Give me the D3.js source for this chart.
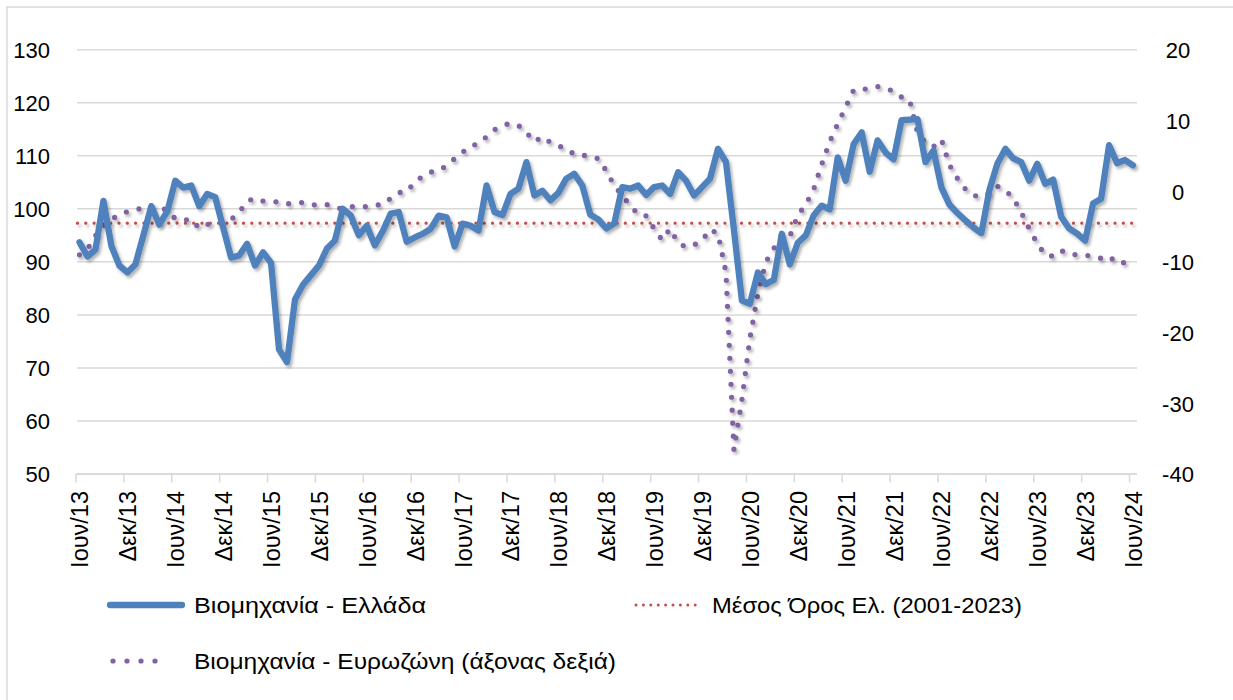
<!DOCTYPE html>
<html><head><meta charset="utf-8">
<script src="https://cdn.jsdelivr.net/npm/d3@7"></script>
<style>
html,body{margin:0;padding:0;background:#fff;}
svg{display:block;font-family:"Liberation Sans",Arial,sans-serif;}
</style></head>
<body><svg id="chart" width="1233" height="700"></svg>
<script>
// ---- data ----
const startMonth = new Date(2013, 5, 1); // Ιουν/13
const tickLabels = ["Ιουν/13","Δεκ/13","Ιουν/14","Δεκ/14","Ιουν/15","Δεκ/15","Ιουν/16","Δεκ/16","Ιουν/17","Δεκ/17","Ιουν/18","Δεκ/18","Ιουν/19","Δεκ/19","Ιουν/20","Δεκ/20","Ιουν/21","Δεκ/21","Ιουν/22","Δεκ/22","Ιουν/23","Δεκ/23","Ιουν/24"];
const greece = [93.7,91.0,92.3,101.5,93.0,89.3,88.0,89.5,95.0,100.5,97.0,99.5,
105.3,104.0,104.4,100.5,102.8,102.2,96.5,90.8,91.2,93.4,89.3,91.8,
89.8,73.5,71.1,82.9,85.7,87.5,89.3,92.5,94.0,100.0,98.7,95.0,
96.8,93.1,95.8,99.1,99.4,93.8,94.6,95.3,96.2,98.7,98.4,92.9,
97.2,96.8,95.9,104.4,99.4,98.8,102.8,103.8,108.8,102.5,103.4,101.6,
103.0,105.7,106.6,104.4,98.9,98.0,96.3,97.2,104.1,103.8,104.4,102.6,
104.1,104.4,102.8,106.9,105.3,102.5,104.1,105.7,111.3,108.8,96.0,82.7,
82.1,88.0,85.8,86.6,95.3,89.5,93.6,95.0,98.8,100.6,99.9,109.7,
105.3,112.2,114.4,107.0,112.9,110.6,109.3,116.7,116.8,116.9,108.8,111.0,
104.0,100.8,99.2,97.8,96.5,95.4,103.5,108.5,111.3,109.5,108.8,105.3,
108.5,104.7,105.5,98.5,96.3,95.3,94.0,101.0,101.9,112.0,108.6,109.2,
108.2];
const eurozone = [-9.0,-8.2,-6.3,-5.0,-4.0,-3.3,-2.9,-2.6,-2.4,-2.2,-2.3,-2.7,
-3.9,-4.1,-4.0,-5.2,-4.7,-4.5,-4.3,-4.0,-3.0,-1.4,-1.0,-1.4,
-1.5,-1.5,-1.8,-1.7,-1.6,-1.9,-2.0,-1.9,-2.3,-2.5,-2.2,-2.2,
-2.2,-2.0,-1.9,-1.0,-0.2,-0.1,1.3,2.1,2.7,2.9,3.6,4.6,
5.5,6.4,6.7,7.7,8.7,9.3,9.6,9.3,8.3,7.0,7.7,6.9,
6.4,6.0,5.2,5.1,4.9,4.6,2.9,0.8,-0.6,-2.0,-3.3,-3.5,
-5.3,-6.9,-5.3,-7.3,-7.9,-7.6,-7.0,-5.4,-6.0,-11.5,-36.6,-29.5,
-20.8,-14.6,-10.0,-8.1,-6.2,-6.4,-3.4,-1.9,0.3,3.8,7.0,9.5,
11.9,14.3,14.4,14.5,14.8,14.6,14.1,13.3,12.9,8.3,6.8,6.3,
7.3,3.7,1.8,0.3,-0.6,-0.8,-0.3,0.7,0.15,-1.0,-3.0,-5.3,
-7.4,-9.0,-9.2,-8.4,-8.9,-9.0,-9.0,-9.3,-9.5,-9.2,-10.2,-10.1,
-10.1];
const longRunAverage = 97.3;
const leftTicks = [50,60,70,80,90,100,110,120,130];
const rightTicks = [-40,-30,-20,-10,0,10,20];
const legendNames = ["Βιομηχανία  - Ελλάδα","Μέσος Όρος Ελ. (2001-2023)","Βιομηχανία - Ευρωζώνη (άξονας δεξιά)"];

// ---- layout ----
const svg = d3.select("#chart");
const W = 1233, H = 700;
const plot = {left:75.5, right:1137, top:49.7, bottom:474};
const months = d3.range(greece.length).map(i => d3.timeMonth.offset(startMonth, i));
const xBand = d3.scaleBand().domain(d3.range(months.length)).range([plot.left, plot.right]).padding(0);
const x = i => xBand(i) + xBand.bandwidth()/2;
const yL = d3.scaleLinear().domain([50,130]).range([plot.bottom, plot.top]);
const yR = d3.scaleLinear().domain([-40,20]).range([plot.bottom, plot.top]);

svg.append("rect").attr("width",W).attr("height",H).attr("fill","#fff");
// chart border
svg.append("rect").attr("x",7).attr("y",7).attr("width",1240).attr("height",720)
  .attr("fill","none").attr("stroke","#d9d9d9").attr("stroke-width",1.5);

const defs = svg.append("defs");
const f = defs.append("filter").attr("id","shadow").attr("filterUnits","userSpaceOnUse")
  .attr("x",0).attr("y",0).attr("width",W).attr("height",H);
f.append("feDropShadow").attr("dx",2).attr("dy",2.5).attr("stdDeviation",1.6)
  .attr("flood-color","#000").attr("flood-opacity",0.3);

// gridlines
svg.append("g").selectAll("line").data(leftTicks).join("line")
  .attr("x1",plot.left+1.5).attr("x2",plot.right)
  .attr("y1",d=>yL(d)).attr("y2",d=>yL(d))
  .attr("stroke","#d9d9d9").attr("stroke-width",1.5);

// left axis labels
const yAxisL = d3.axisLeft(yL).tickValues(leftTicks).tickSize(0).tickPadding(0);
const gL = svg.append("g").attr("transform","translate(50,0)").call(yAxisL);
gL.select(".domain").remove();
gL.selectAll("text").attr("font-size",22).attr("fill","#000").attr("font-family","Liberation Sans, Arial, sans-serif").attr("dy","0.36em");

// right axis labels (hyphen minus, centred like the source)
const yAxisR = d3.axisRight(yR).tickValues(rightTicks).tickSize(0).tickPadding(0)
  .tickFormat(d => String(d));
const gR = svg.append("g").attr("transform","translate(1178,0)").call(yAxisR);
gR.select(".domain").remove();
gR.selectAll("text").attr("font-size",22).attr("fill","#000").attr("font-family","Liberation Sans, Arial, sans-serif")
  .attr("text-anchor","middle").attr("x",0).attr("dy","0.36em");

// bottom axis
const tickIdx = d3.range(0, months.length, 6);
svg.append("line").attr("x1",plot.left).attr("x2",plot.right).attr("y1",plot.bottom).attr("y2",plot.bottom)
  .attr("stroke","#d9d9d9").attr("stroke-width",1.5);
const xAxis = d3.axisBottom(d3.scaleLinear().domain([0, months.length]).range([plot.left, plot.right]))
  .tickValues(tickIdx).tickSize(8.5).tickFormat((d,k)=>tickLabels[k]);
const gX = svg.append("g").attr("transform",`translate(0,${plot.bottom})`).call(xAxis);
gX.select(".domain").remove();
gX.selectAll(".tick line").attr("stroke","#d9d9d9").attr("stroke-width",1.5);
gX.selectAll(".tick text")
  .attr("font-size",23.5).attr("fill","#000").attr("font-family","Liberation Sans, Arial, sans-serif")
  .attr("text-anchor","end")
  .attr("transform",(d)=>`translate(${x(d)-xBand(d)},${17}) rotate(-90)`)
  .attr("x",0).attr("y",0).attr("dy","0.36em");

// average line
svg.append("line").attr("x1",plot.left+2).attr("x2",plot.right)
  .attr("y1",yL(longRunAverage)).attr("y2",yL(longRunAverage))
  .attr("stroke","#c0504d").attr("stroke-width",3.3).attr("stroke-linecap","round")
  .attr("stroke-dasharray","0 8.3").attr("filter","url(#shadow)");

// eurozone dotted line
const lineR = d3.line().x((d,i)=>x(i)).y(d=>yR(d));
svg.append("path").datum(eurozone).attr("d",lineR)
  .attr("fill","none").attr("stroke","#8064a2").attr("stroke-width",5.2)
  .attr("stroke-linecap","round").attr("stroke-linejoin","round")
  .attr("stroke-dasharray","0 13").attr("filter","url(#shadow)");

// greece line
const lineL = d3.line().x((d,i)=>x(i)).y(d=>yL(d));
svg.append("path").datum(greece).attr("d",lineL)
  .attr("fill","none").attr("stroke","#4f81bd").attr("stroke-width",6.3)
  .attr("stroke-linecap","round").attr("stroke-linejoin","round")
  .attr("filter","url(#shadow)");

// legend
const lg = svg.append("g");
lg.append("line").attr("x1",110).attr("x2",182).attr("y1",605).attr("y2",605)
  .attr("stroke","#4f81bd").attr("stroke-width",6.3).attr("stroke-linecap","round");
lg.append("line").attr("x1",636).attr("x2",696).attr("y1",605).attr("y2",605)
  .attr("stroke","#c0504d").attr("stroke-width",3).attr("stroke-linecap","round").attr("stroke-dasharray","0 7.4");
lg.append("line").attr("x1",113).attr("x2",169).attr("y1",661).attr("y2",661)
  .attr("stroke","#8064a2").attr("stroke-width",5.2).attr("stroke-linecap","round").attr("stroke-dasharray","0 14");
const legendPos = [[194,605,232],[712,605,310],[194,661,422]];
lg.selectAll("text").data(legendNames).join("text")
  .attr("x",(d,i)=>legendPos[i][0]).attr("y",(d,i)=>legendPos[i][1]).attr("dy","0.36em")
  .attr("font-size",22).attr("fill","#000")
  .attr("textLength",(d,i)=>legendPos[i][2]).attr("lengthAdjust","spacingAndGlyphs")
  .text(d=>d);
</script></body></html>
